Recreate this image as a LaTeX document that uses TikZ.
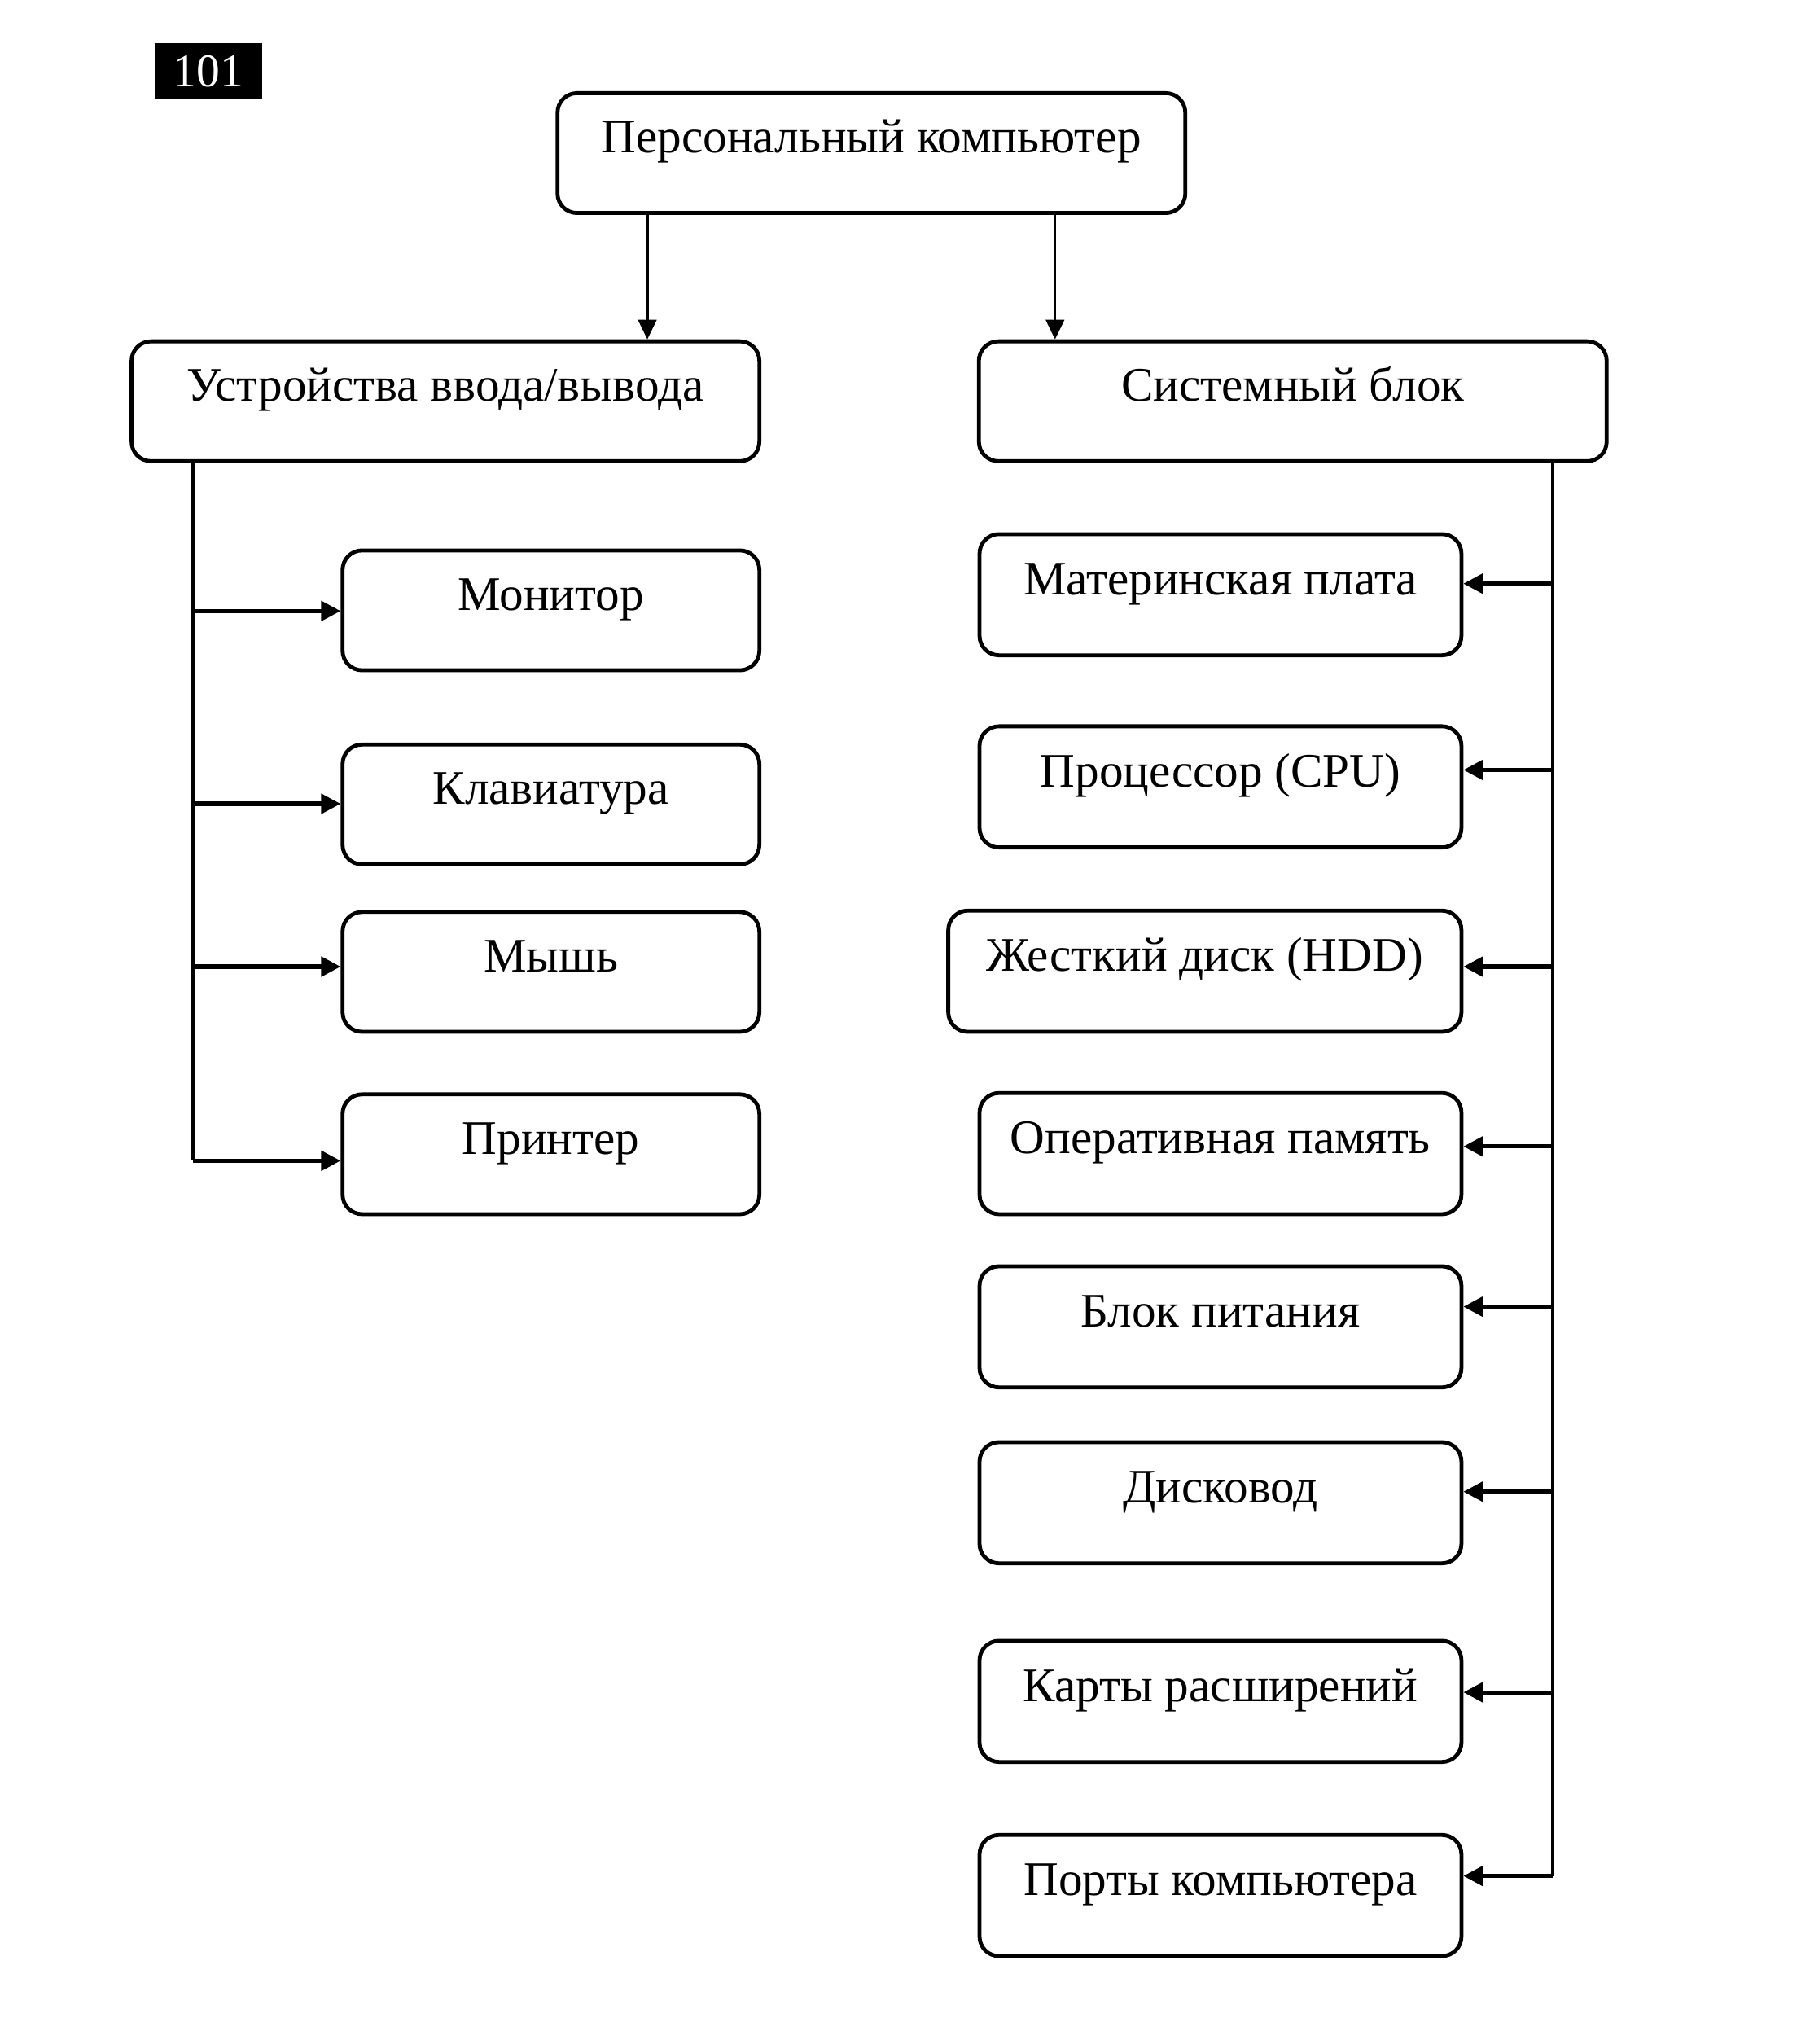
\documentclass[tikz,border=0pt]{standalone}
\usepackage{fontspec}
\setmainfont{Liberation Serif}
\usetikzlibrary{arrows.meta}

\begin{document}
\begin{tikzpicture}[x=1pt, y=-1pt, line join=round,
    main node/.style={rectangle,draw,rounded corners=15pt,line width=3pt,inner sep=0pt,
      text height=10pt,text depth=10pt,font=\fontsize{37}{40}\selectfont},
    big node/.style={main node,minimum width=482pt,minimum height=92pt},
    left node/.style={main node,minimum width=320pt,minimum height=92pt},
    right node/.style={main node,minimum width=370pt,minimum height=93pt},
    link/.style={line width=2.4pt},
    branch/.style={line width=3.2pt,-{Triangle[length=15pt,width=15pt]}}]

      \useasboundingbox (0,0) rectangle (1389,1569);

      % page number
      \node[fill=black,text=white,minimum width=82pt,minimum height=43pt,inner sep=0pt,
        font=\fontsize{36}{38}\selectfont] (0) at (160,54.5) {101};

      \node[big node] (1) at (669,117.5) {Персональный компьютер};
      \node[big node] (2) at (342,308) {Устройства ввода/вывода};
      \node[big node] (3) at (992.5,308) {Системный блок};

      \node[left node] (4) at (423,468.5) {Монитор};
      \node[left node] (5) at (423,617.5) {Клавиатура};
      \node[left node] (6) at (423,746) {Мышь};
      \node[left node] (7) at (423,886) {Принтер};

      \node[right node] (8) at (937,456.5) {Материнская плата};
      \node[right node] (9) at (937,604) {Процессор (CPU)};
      \node[right node,minimum width=394pt] (10) at (925,745.5) {Жесткий диск (HDD)};
      \node[right node] (11) at (937,885.5) {Оперативная память};
      \node[right node] (12) at (937,1018.5) {Блок питания};
      \node[right node] (13) at (937,1153.5) {Дисковод};
      \node[right node] (14) at (937,1306) {Карты расширений};
      \node[right node] (15) at (937,1455) {Порты компьютера};

      \coordinate (a) at (497,0);
      \coordinate (b) at (810,0);
      \draw[line width=2pt,-{Triangle[length=15pt,width=14pt]}] (1.south -| a) -- (2.north -| a);
      \draw[line width=2pt,-{Triangle[length=15pt,width=14pt]}] (1.south -| b) -- (3.north -| b);

      % left bus
      \foreach \n/\y in {4/469,5/617,6/742,7/891}
        \coordinate (l\n) at (148,\y);
      \draw[link] (2.south -| l7) -- (l7);
      \foreach \n in {4,5,6,7}
        \draw[branch] (l\n) -- (l\n -| \n.west);

      % right bus
      \foreach \n/\y in {8/448,9/591,10/742,11/880,12/1003,13/1145,14/1299,15/1440}
        \coordinate (r\n) at (1192,\y);
      \draw[link] (3.south -| r15) -- (r15);
      \foreach \n in {8,...,15}
        \draw[branch] (r\n) -- (r\n -| \n.east);

\end{tikzpicture}
\end{document}
